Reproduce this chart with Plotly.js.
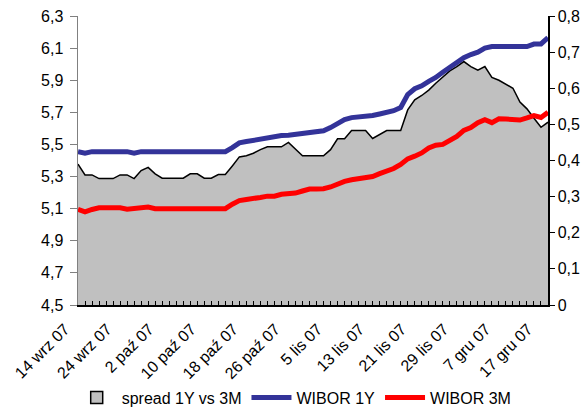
<!DOCTYPE html>
<html>
<head>
<meta charset="utf-8">
<script src="https://cdn.plot.ly/plotly-3.0.1.min.js"></script>
<style>html,body{margin:0;padding:0;background:#fff;}#chart{width:585px;height:412px;}</style>
</head>
<body>
<div id="chart"></div>
<script>
// Tick labels shown every 6th business day
const xLabels = ['14 wrz 07','24 wrz 07','2 paź 07','10 paź 07','18 paź 07','26 paź 07','5 lis 07','13 lis 07','21 lis 07','29 lis 07','7 gru 07','17 gru 07'];
const labelStep = 6;

// WIBOR 1Y (left axis)
const wibor1Y = [5.455,5.445,5.455,5.455,5.455,5.455,5.455,5.455,5.445,5.455,
  5.455,5.455,5.455,5.455,5.455,5.455,5.455,5.455,5.455,5.455,5.455,5.455,
  5.48,5.51,5.518,5.525,5.532,5.545,5.55,5.555,5.557,5.562,5.567,5.572,5.576,5.585,
  5.605,5.63,5.655,5.667,5.67,5.675,5.68,5.69,5.70,5.71,5.73,5.81,5.847,5.865,
  5.893,5.917,5.95,5.98,6.01,6.04,6.06,6.075,6.10,6.11,6.11,6.11,6.11,6.11,6.11,
  6.125,6.126,6.165];

// WIBOR 3M (left axis)
const wibor3M = [5.095,5.08,5.095,5.105,5.105,5.105,5.105,5.097,5.10,5.11,5.11,5.10,
  5.10,5.10,5.10,5.10,5.10,5.10,5.10,5.10,5.10,5.10,
  5.128,5.15,5.157,5.16,5.17,5.178,5.178,5.19,5.193,5.197,5.21,5.222,5.222,5.224,
  5.235,5.255,5.27,5.28,5.288,5.298,5.30,5.318,5.33,5.35,5.375,5.41,5.427,5.447,
  5.478,5.495,5.50,5.525,5.55,5.588,5.605,5.635,5.654,5.636,5.66,5.658,5.654,5.652,
  5.665,5.68,5.668,5.70];

// spread 1Y vs 3M (right axis)
const spread = [0.39,0.36,0.36,0.35,0.35,0.35,0.36,0.36,0.35,0.372,0.381,0.363,
  0.351,0.351,0.351,0.351,0.363,0.363,0.351,0.351,0.361,0.361,
  0.385,0.41,0.413,0.42,0.43,0.438,0.438,0.438,0.45,0.432,0.413,0.413,0.413,0.413,
  0.43,0.46,0.46,0.483,0.483,0.483,0.461,0.473,0.483,0.483,0.483,0.54,0.568,0.58,
  0.595,0.614,0.632,0.648,0.66,0.674,0.66,0.65,0.66,0.63,0.622,0.612,0.60,0.562,
  0.543,0.517,0.492,0.506];

const leftTicks = [4.5,4.7,4.9,5.1,5.3,5.5,5.7,5.9,6.1,6.3];
const rightTicks = [0,0.1,0.2,0.3,0.4,0.5,0.6,0.7,0.8];

const n = wibor1Y.length;
const xs = wibor1Y.map((_, i) => i);
const tickText = xs.map(i => (i % labelStep === 0 && xLabels[i / labelStep]) ? xLabels[i / labelStep] : '');

const font = {family: 'Liberation Sans, Arial, sans-serif', size: 16, color: '#000'};

const traces = [
  // spread area (right axis, drawn underneath)
  {x: xs, y: spread, yaxis: 'y', type: 'scatter', mode: 'lines', name: 'spread 1Y vs 3M',
   fill: 'tozeroy', fillcolor: '#C0C0C0', line: {color: '#000', width: 1.5}, showlegend: false},
  // legend entry for the area (box symbol)
  {x: [null], y: [null], yaxis: 'y', type: 'bar', name: 'spread 1Y vs 3M',
   marker: {color: '#C0C0C0', line: {color: '#000', width: 1.5}}, showlegend: true},
  {x: xs, y: wibor1Y, yaxis: 'y2', type: 'scatter', mode: 'lines', name: 'WIBOR 1Y',
   line: {color: '#333399', width: 5}},
  {x: xs, y: wibor3M, yaxis: 'y2', type: 'scatter', mode: 'lines', name: 'WIBOR 3M',
   line: {color: '#FF0000', width: 5}}
];

const layout = {
  width: 585, height: 412,
  margin: {l: 78, r: 37, t: 16, b: 107, autoexpand: false},
  paper_bgcolor: '#fff', plot_bgcolor: '#fff',
  separators: ', ',
  font: font,
  showlegend: true,
  legend: {orientation: 'h', x: 0.46, xanchor: 'center', y: -0.32, yanchor: 'middle',
    font: {family: 'Liberation Sans, Arial, sans-serif', size: 16, color: '#000'},
    itemwidth: 40, tracegroupgap: 0, bgcolor: 'rgba(0,0,0,0)', traceorder: 'normal'},
  xaxis: {range: [0, n - 1], tickmode: 'array', tickvals: xs, ticktext: tickText,
    tickangle: -45, ticks: 'inside', ticklen: 4, tickcolor: '#000', tickwidth: 1,
    ticklabelshift: -13, ticklabelstandoff: 7,
    showline: true, linecolor: '#000', linewidth: 1.5, showgrid: false, zeroline: false,
    tickfont: font, fixedrange: true},
  yaxis: {range: [0, 0.8], side: 'right', tickmode: 'array', tickvals: rightTicks,
    ticks: 'outside', ticklen: 5, tickcolor: '#000', showline: true, linecolor: '#000',
    linewidth: 1.5, showgrid: false, zeroline: false, tickfont: font},
  yaxis2: {range: [4.5, 6.3], overlaying: 'y', side: 'left', tickmode: 'array', tickvals: leftTicks,
    tickformat: '.1f', ticks: 'outside', ticklen: 7, tickcolor: '#808080', showline: true,
    ticklabelstandoff: 3,
    linecolor: '#808080', linewidth: 1.5, showgrid: false, zeroline: false, tickfont: font}
};

Plotly.newPlot('chart', traces, layout, {staticPlot: true, displayModeBar: false});
</script>
</body>
</html>
